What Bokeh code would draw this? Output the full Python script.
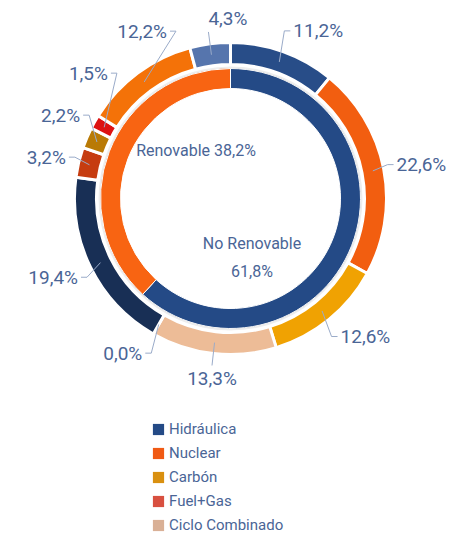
import numpy as np
from bokeh.plotting import figure
from bokeh.models import Range1d, ColumnDataSource, Legend, LegendItem
from bokeh.embed import file_html
from bokeh.resources import INLINE
from bokeh.core.properties import value

# ---------------- data ----------------
outer_values = [11.2, 22.6, 12.6, 13.3, 0.0, 19.4, 3.2, 2.2, 1.5, 12.2, 4.3]
outer_colors = ["#284d88", "#f25e10", "#f0a202", "#edbc97", "#d85040", "#182f55",
                "#c63c10", "#b97a06", "#dd1212", "#f47208", "#5675ad"]
inner_names = ["No Renovable", "Renovable"]
inner_values = [61.8, 38.2]
inner_colors = ["#244a86", "#f86412"]
legend_names = ["Hidráulica", "Nuclear", "Carbón", "Fuel+Gas", "Ciclo Combinado"]
legend_colors = ["#244a86", "#f05a14", "#d99010", "#d85040", "#d9b096"]


def pct(v):
    return f"{v:.1f}".replace(".", ",") + "%"


# ---------------- layout ----------------
W, H = 449, 536
CX_PAGE, CY_PAGE = 230, 198
R_IN = (110, 130)
R_OUT = (134, 156)
R_CONN = 145
R_X, R_Y = 160, 178      # ellipse on which label elbows sit
R_TB = 168               # top / bottom labels
GAP = 42
STUB = 6
PAD = 3
TXT = "#4a6596"
CONN = "#9aabc9"
FONT = value("Roboto")
inner_label_offsets = [(21.5, -59), (-34.5, 48)]   # annotation placement, relative to centre

p = figure(width=W, height=H,
           x_range=Range1d(-CX_PAGE, W - CX_PAGE),
           y_range=Range1d(CY_PAGE - H, CY_PAGE),
           output_backend="svg", toolbar_location=None, min_border=0,
           x_axis_location=None, y_axis_location=None)
p.grid.visible = False
p.outline_line_color = None
p.background_fill_color = "white"


def wedges(vals):
    tot = float(sum(vals))
    cum = np.concatenate([[0.0], np.cumsum(vals)]) / tot * 2 * np.pi
    start = np.pi / 2 - cum[1:]
    end = np.pi / 2 - cum[:-1]
    mid = (cum[:-1] + cum[1:]) / 2
    return start, end, mid


# inner ring
s_in, e_in, m_in = wedges(inner_values)
p.annular_wedge(x=0, y=0, inner_radius=R_IN[0], outer_radius=R_IN[1],
                start_angle=s_in, end_angle=e_in, fill_color=inner_colors,
                line_color="white", line_width=1)

# subtle shadow between rings
p.annulus(x=0, y=0, inner_radius=R_IN[1], outer_radius=R_IN[1] + 2,
          fill_color="#000000", fill_alpha=0.07, line_color=None)

# outer ring (zero-valued slices are not drawn: an empty arc would become a full ring)
s_out, e_out, m_out = wedges(outer_values)
keep = [i for i, v in enumerate(outer_values) if v > 0]
outer_src = ColumnDataSource(dict(start=s_out[keep], end=e_out[keep],
                                  color=[outer_colors[i] for i in keep]))
p.annular_wedge(x=0, y=0, inner_radius=R_OUT[0], outer_radius=R_OUT[1],
                start_angle="start", end_angle="end", fill_color="color",
                line_color="white", line_width=3, source=outer_src)

# ---------------- outer labels ----------------
labels = [pct(v) for v in outer_values]
info = []
for i, th in enumerate(m_out):
    s, c = np.sin(th), np.cos(th)
    if abs(s) < 0.2:
        kind = "top" if c > 0 else "bottom"
    else:
        kind = "right" if s > 0 else "left"
    info.append(dict(i=i, s=s, c=c, kind=kind, y=R_Y * c))

# distribute side labels so they do not overlap
left = sorted([d for d in info if d["kind"] == "left"], key=lambda d: d["y"])
prev = None
for d in left:
    if prev is not None:
        d["y"] = max(d["y"], prev + GAP)
    prev = d["y"]
right = sorted([d for d in info if d["kind"] == "right"], key=lambda d: -d["y"])
prev = None
for d in right:
    if prev is not None:
        d["y"] = min(d["y"], prev - GAP)
    prev = d["y"]

xs, ys = [], []
groups = {k: dict(x=[], y=[], text=[]) for k in ["left", "right", "top", "bottom"]}
for d in info:
    sx, sy = R_CONN * d["s"], R_CONN * d["c"]
    if d["kind"] in ("left", "right"):
        sign = 1 if d["kind"] == "right" else -1
        ey = d["y"]
        ex = sign * R_X * np.sqrt(max(1 - (ey / R_Y) ** 2, 0.0))
        fx = ex + sign * STUB
        xs.append([sx, ex, fx])
        ys.append([sy, ey, ey])
        g = groups[d["kind"]]
        g["x"].append(fx + sign * PAD)
        g["y"].append(ey)
    else:
        ex, ey = R_TB * d["s"], R_TB * d["c"]
        xs.append([sx, ex])
        ys.append([sy, ey])
        g = groups[d["kind"]]
        g["x"].append(ex)
        g["y"].append(ey + (2 if d["kind"] == "top" else -2))
    g["text"].append(labels[d["i"]])

p.multi_line(xs=xs, ys=ys, line_color=CONN, line_width=1)

align = {"left": ("right", "middle"), "right": ("left", "middle"),
         "top": ("left", "bottom"), "bottom": ("center", "top")}
for k, g in groups.items():
    if not g["x"]:
        continue
    p.text(x="x", y="y", text="text", source=ColumnDataSource(g),
           text_align=align[k][0], text_baseline=align[k][1],
           text_font=FONT, text_font_size="19px", text_color=TXT)

# ---------------- inner labels ----------------
inner_texts = [f"{inner_names[0]}\n{pct(inner_values[0])}",
               f"{inner_names[1]} {pct(inner_values[1])}"]
p.text(x=[o[0] for o in inner_label_offsets], y=[o[1] for o in inner_label_offsets],
       text=inner_texts, text_align="center", text_baseline="middle",
       text_font=FONT, text_font_size="16px", text_color=TXT, text_line_height=1.45)

# ---------------- legend ----------------
items = []
for name, col in zip(legend_names, legend_colors):
    r = p.rect(x=[0], y=[0], width=0, height=0, fill_color=col, line_color=None)
    items.append(LegendItem(label=name, renderers=[r]))
legend = Legend(items=items, location=(151, 1), orientation="vertical",
                glyph_width=14, glyph_height=14, label_height=20, spacing=4,
                label_standoff=4, padding=0, margin=0,
                border_line_color=None, background_fill_alpha=0,
                label_text_font="Roboto", label_text_font_size="15px",
                label_text_color=TXT)
p.add_layout(legend)

open("out.html", "w").write(file_html(p, INLINE))
